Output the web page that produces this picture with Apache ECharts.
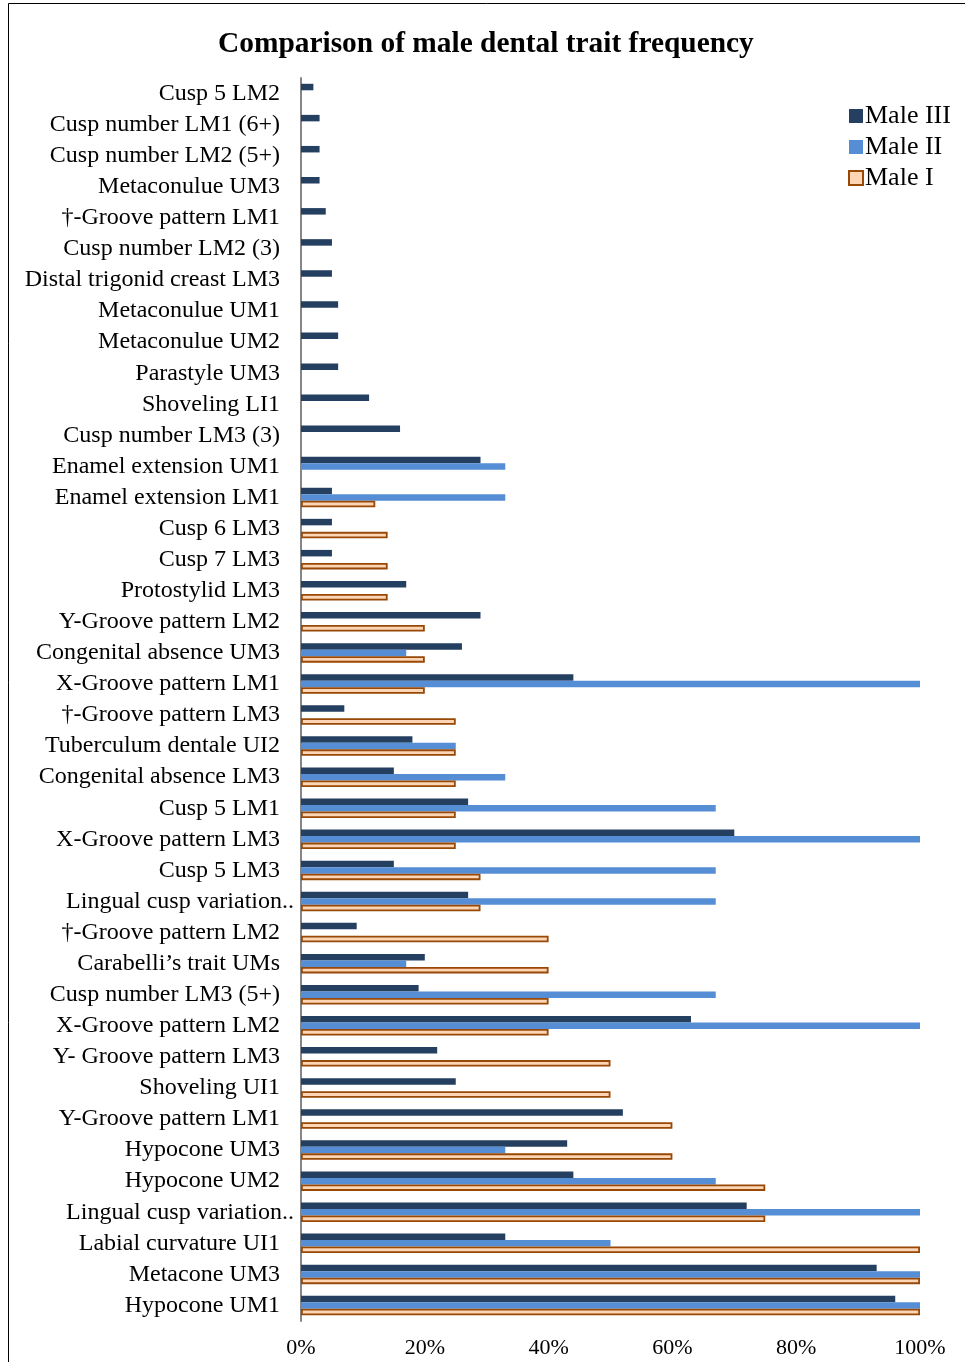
<!DOCTYPE html>
<html>
<head>
<meta charset="utf-8">
<script src="https://cdn.jsdelivr.net/npm/echarts@6/dist/echarts.min.js"></script>
<style>
  html, body { margin: 0; padding: 0; background: #fff; }
  #chart { width: 965px; height: 1362px; }
</style>
</head>
<body>
<div id="chart"></div>
<script>
// categories, bottom to top (as drawn on the y axis)
var traits = [
  'Hypocone UM1', 'Metacone UM3', 'Labial curvature UI1', 'Lingual cusp variation..',
  'Hypocone UM2', 'Hypocone UM3', 'Y-Groove pattern LM1', 'Shoveling UI1',
  'Y- Groove pattern LM3', 'X-Groove pattern LM2', 'Cusp number LM3 (5+)', 'Carabelli\u2019s trait UMs',
  '\u2020-Groove pattern LM2', 'Lingual cusp variation..', 'Cusp 5 LM3', 'X-Groove pattern LM3',
  'Cusp 5 LM1', 'Congenital absence LM3', 'Tuberculum dentale UI2', '\u2020-Groove pattern LM3',
  'X-Groove pattern LM1', 'Congenital absence UM3', 'Y-Groove pattern LM2', 'Protostylid LM3',
  'Cusp 7 LM3', 'Cusp 6 LM3', 'Enamel extension LM1', 'Enamel extension UM1',
  'Cusp number LM3 (3)', 'Shoveling LI1', 'Parastyle UM3', 'Metaconulue UM2',
  'Metaconulue UM1', 'Distal trigonid creast LM3', 'Cusp number LM2 (3)', '\u2020-Groove pattern LM1',
  'Metaconulue UM3', 'Cusp number LM2 (5+)', 'Cusp number LM1 (6+)', 'Cusp 5 LM2'
];

// frequencies in %, same order as traits (0 = no bar drawn)
var maleIII = [
  96, 93, 33, 72, 44, 43, 52, 25,
  22, 63, 19, 20, 9, 27, 15, 70,
  27, 15, 18, 7, 44, 26, 29, 17,
  5, 5, 5, 29, 16, 11, 6, 6,
  6, 5, 5, 4, 3, 3, 3, 2
];
var maleII = [
  100, 100, 50, 100, 67, 33, 0, 0,
  0, 100, 67, 17, 0, 67, 67, 100,
  67, 33, 25, 0, 100, 17, 0, 0,
  0, 0, 33, 33, 0, 0, 0, 0,
  0, 0, 0, 0, 0, 0, 0, 0
];
var maleI = [
  100, 100, 100, 75, 75, 60, 60, 50,
  50, 40, 40, 40, 40, 29, 29, 25,
  25, 25, 25, 25, 20, 20, 20, 14,
  14, 14, 12, 0, 0, 0, 0, 0,
  0, 0, 0, 0, 0, 0, 0, 0
];

var xTicks = [0, 20, 40, 60, 80, 100];

var serif = '"Liberation Serif", "DejaVu Serif", serif';

// zero frequency -> no bar (avoids a stray border line on the axis)
function bars(arr) {
  return arr.map(function (v) { return v === 0 ? '-' : v; });
}

// truncated labels overhang the label column a little, like the original
var yCats = traits.map(function (t) {
  if (t.slice(-2) === '..') {
    return { value: t, textStyle: { padding: [0, -14, 0, 0] } };
  }
  return t;
});

var chart = echarts.init(document.getElementById('chart'));

var option = {
  backgroundColor: '#fff',
  animation: false,
  textStyle: { fontFamily: serif },
  title: {
    text: 'Comparison of male dental trait frequency',
    left: 213,
    top: 25,
    textStyle: { fontFamily: serif, fontSize: 29.4, fontWeight: 'bold', color: '#000' }
  },
  legend: {
    orient: 'vertical',
    left: 843,
    top: 98,
    icon: 'rect',
    itemWidth: 14,
    itemHeight: 14,
    itemGap: 5,
    data: ['Male III', 'Male II', 'Male I'],
    textStyle: { fontFamily: serif, fontSize: 26, color: '#000', padding: [0, 0, 0, -3] }
  },
  grid: { left: 301, right: 45, top: 78, bottom: 41, containLabel: false },
  xAxis: {
    type: 'value',
    min: xTicks[0],
    max: xTicks[xTicks.length - 1],
    interval: 20,
    axisLine: { show: false },
    axisTick: { show: false },
    splitLine: { show: false },
    axisLabel: {
      formatter: '{value}%',
      fontFamily: serif,
      fontSize: 22,
      color: '#000',
      margin: 16
    }
  },
  yAxis: {
    type: 'category',
    data: yCats,
    axisLine: { show: true, lineStyle: { color: '#868686', width: 2 } },
    axisTick: { show: false },
    axisLabel: {
      fontFamily: serif,
      fontSize: 24,
      color: '#000',
      margin: 21,
      interval: 0
    }
  },
  series: [
    {
      name: 'Male III',
      type: 'bar',
      data: bars(maleIII),
      barWidth: 6.5,
      barGap: '0%',
      itemStyle: { color: '#243F60' }
    },
    {
      name: 'Male II',
      type: 'bar',
      data: bars(maleII),
      barWidth: 6.5,
      barGap: '0%',
      itemStyle: { color: '#558ED5' }
    },
    {
      name: 'Male I',
      type: 'bar',
      data: bars(maleI),
      barWidth: 6.5,
      barGap: '0%',
      itemStyle: { color: '#FCD5B5', borderColor: '#984807', borderWidth: 1.8 }
    }
  ],
  graphic: [
    {
      type: 'polyline',
      silent: true,
      shape: { points: [[8.5, 1362], [8.5, 3.5], [965, 3.5]] },
      style: { stroke: '#000', lineWidth: 1, fill: null }
    }
  ]
};

chart.setOption(option);
</script>
</body>
</html>
